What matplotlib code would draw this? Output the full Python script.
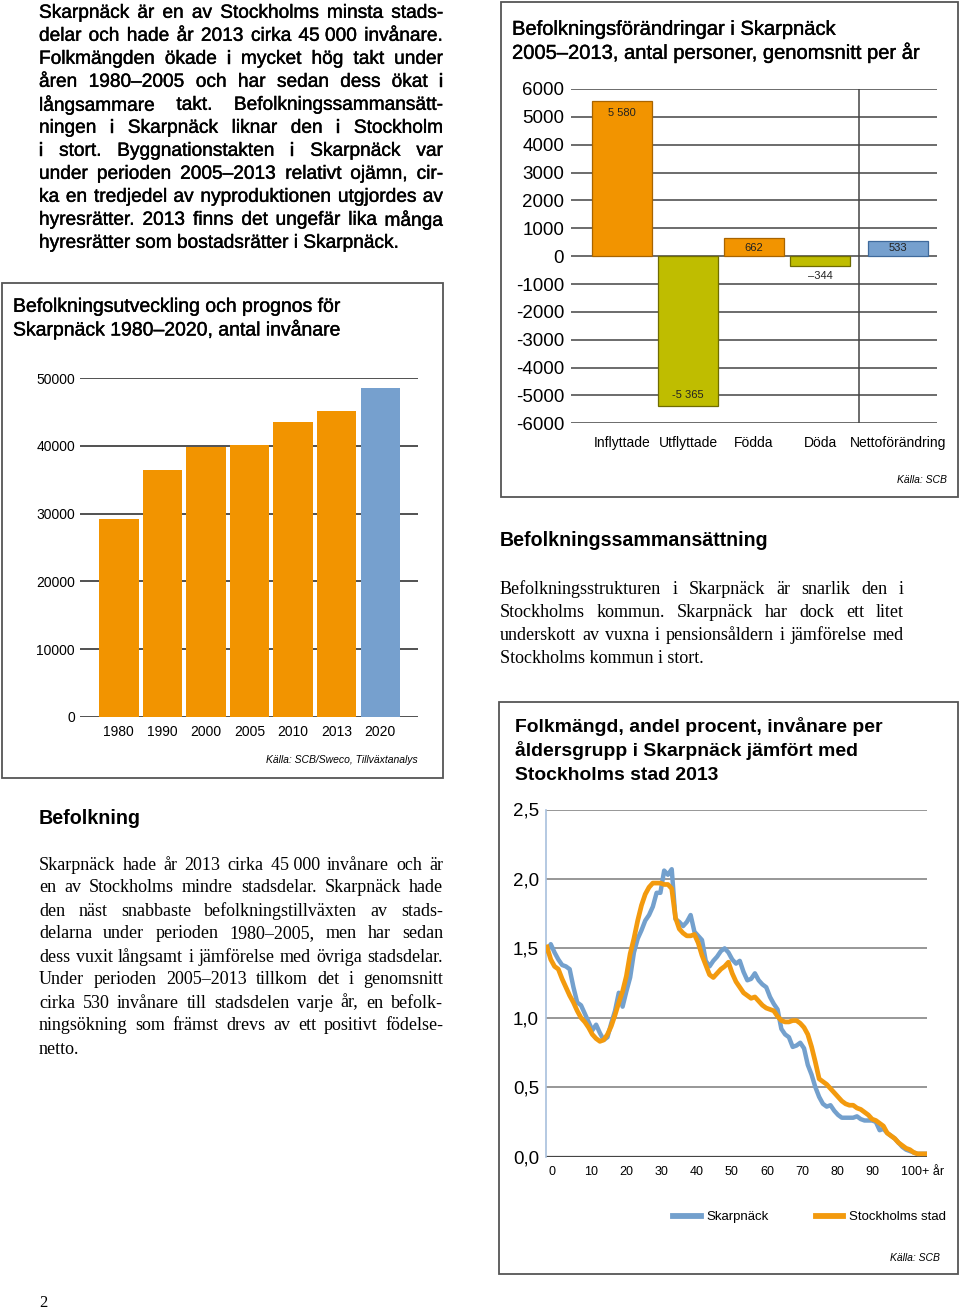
import matplotlib
matplotlib.use('Agg')
import matplotlib.pyplot as plt
import matplotlib.patheffects as pe
from matplotlib.patches import Rectangle
from matplotlib.lines import Line2D
import numpy as np

# --- data -------------------------------------------------------------
pop_years = ['1980', '1990', '2000', '2005', '2010', '2013', '2020']
pop_values = [29200, 36400, 39900, 40200, 43600, 45100, 48600]
pop_prognos = [False, False, False, False, False, False, True]

change_labels = ['Inflyttade', 'Utflyttade', 'Födda', 'Döda', 'Nettoförändring']
change_values = [5580, -5365, 662, -344, 533]
change_texts = ['5 580', '-5 365', '662', '–344', '533']

ages = list(range(101))
skarpnack = [1.48, 1.53, 1.47, 1.42, 1.38, 1.37, 1.35, 1.22, 1.11, 1.09,
             1.03, 0.97, 0.91, 0.95, 0.89, 0.84, 0.86, 0.96, 1.05, 1.18,
             1.08, 1.19, 1.29, 1.47, 1.57, 1.63, 1.70, 1.74, 1.80, 1.90,
             1.90, 2.06, 2.03, 2.07, 1.71, 1.69, 1.66, 1.69, 1.74, 1.62,
             1.59, 1.56, 1.41, 1.37, 1.41, 1.44, 1.48, 1.50, 1.47, 1.42,
             1.39, 1.41, 1.33, 1.27, 1.28, 1.32, 1.27, 1.24, 1.22, 1.15,
             1.10, 1.06, 0.92, 0.88, 0.86, 0.79, 0.80, 0.82, 0.78, 0.66,
             0.59, 0.50, 0.43, 0.38, 0.36, 0.37, 0.33, 0.30, 0.28, 0.28,
             0.28, 0.28, 0.29, 0.27, 0.26, 0.26, 0.26, 0.25, 0.19, 0.20,
             0.17, 0.15, 0.13, 0.10, 0.07, 0.05, 0.04, 0.03, 0.02, 0.02,
             0.02]
stockholm = [1.51, 1.42, 1.37, 1.35, 1.28, 1.22, 1.16, 1.11, 1.05, 1.00,
             0.97, 0.93, 0.88, 0.85, 0.83, 0.84, 0.88, 0.94, 1.02, 1.11,
             1.19, 1.30, 1.46, 1.57, 1.70, 1.81, 1.89, 1.94, 1.97, 1.97,
             1.97, 1.96, 1.96, 1.93, 1.72, 1.64, 1.61, 1.59, 1.59, 1.60,
             1.54, 1.45, 1.38, 1.31, 1.29, 1.32, 1.35, 1.37, 1.40, 1.32,
             1.26, 1.22, 1.18, 1.16, 1.14, 1.15, 1.12, 1.09, 1.07, 1.06,
             1.05, 1.01, 0.98, 0.97, 0.97, 0.98, 0.98, 0.96, 0.93, 0.88,
             0.79, 0.68, 0.56, 0.54, 0.52, 0.49, 0.46, 0.43, 0.40, 0.38,
             0.37, 0.37, 0.35, 0.34, 0.32, 0.30, 0.27, 0.26, 0.24, 0.22,
             0.17, 0.15, 0.13, 0.10, 0.08, 0.06, 0.05, 0.03, 0.02, 0.02,
             0.02]
age_labels = ['0', '10', '20', '30', '40', '50', '60', '70', '80', '90', '100+ år']

intro_lines = [
    'Skarpnäck är en av Stockholms minsta stads-',
    'delar och hade år 2013 cirka 45\u00a0000 invånare.',
    'Folkmängden ökade i mycket hög takt under',
    'åren 1980–2005 och har sedan dess ökat i',
    'långsammare takt. Befolkningssammansätt-',
    'ningen i Skarpnäck liknar den i Stockholm',
    'i stort. Byggnationstakten i Skarpnäck var',
    'under perioden 2005–2013 relativt ojämn, cir-',
    'ka en tredjedel av nyproduktionen utgjordes av',
    'hyresrätter. 2013 finns det ungefär lika många',
    'hyresrätter som bostadsrätter i Skarpnäck.',
]
befolkning_lines = [
    'Skarpnäck hade år 2013 cirka 45\u00a0000 invånare och är',
    'en av Stockholms mindre stadsdelar. Skarpnäck hade',
    'den näst snabbaste befolkningstillväxten av stads-',
    'delarna under perioden 1980–2005, men har sedan',
    'dess vuxit långsamt i jämförelse med övriga stadsdelar.',
    'Under perioden 2005–2013 tillkom det i genomsnitt',
    'cirka 530 invånare till stadsdelen varje år, en befolk-',
    'ningsökning som främst drevs av ett positivt födelse-',
    'netto.',
]
sammans_lines = [
    'Befolkningsstrukturen i Skarpnäck är snarlik den i',
    'Stockholms kommun. Skarpnäck har dock ett litet',
    'underskott av vuxna i pensionsåldern i jämförelse med',
    'Stockholms kommun i stort.',
]

# --- helpers ----------------------------------------------------------
W, H = 960, 1311
fig = plt.figure(figsize=(W / 100, H / 100), dpi=100)
plt.rcParams['font.family'] = ['Liberation Sans', 'DejaVu Sans']
R = fig.canvas.get_renderer()

SANS = 'Liberation Sans'
SERIF = 'Liberation Serif'
ORANGE = '#F29400'
BLUE = '#76A0CE'
OLIVE = '#BFBD00'
MEDIUM = [pe.withStroke(linewidth=0.3, foreground='black')]


def fx(x):
    return x / W


def fy(y):
    return 1 - y / H


def put(x, y, s, **kw):
    kw.setdefault('va', 'center')
    return fig.text(fx(x), fy(y), s, **kw)


def fit_size(s, width, **kw):
    t = put(0, 0, s, fontsize=10, **kw)
    w = t.get_window_extent(R).width
    t.remove()
    return 10 * width / w


def block_size(lines, width, **kw):
    # largest size at which every full line fits with normal word spacing
    return 0.985 * min(fit_size(l, width, **kw) for l in lines[:-1])


def box(x0, y0, x1, y1):
    fig.patches.append(Rectangle((fx(x0), fy(y1)), (x1 - x0) / W, (y1 - y0) / H,
                                 transform=fig.transFigure, fill=False,
                                 ec='#555555', lw=1.3))


def axes_px(x0, y0, x1, y1):
    return fig.add_axes([fx(x0), fy(y1), (x1 - x0) / W, (y1 - y0) / H])


def justify(lines, x0, x1, y0, dy, **kw):
    for i, line in enumerate(lines):
        y = y0 + i * dy
        words = line.split(' ')
        if i == len(lines) - 1 or len(words) == 1:
            put(x0, y, line, ha='left', **kw)
            continue
        objs = [put(0, y, w, ha='left', **kw) for w in words]
        widths = [o.get_window_extent(R).width for o in objs]
        gap = (x1 - x0 - sum(widths)) / (len(words) - 1)
        x = x0
        for o, w in zip(objs, widths):
            o.set_x(fx(x))
            x += w + gap


# --- text -------------------------------------------------------------
fs = block_size(intro_lines, 404, family=SANS)
justify(intro_lines, 39, 443, 13.3, 23, family=SANS, fontsize=fs, path_effects=MEDIUM)

fs = fit_size('Befolkning', 102, family=SANS, weight='bold')
put(39, 819, 'Befolkning', family=SANS, weight='bold', fontsize=fs)
fs = fit_size('Befolkningssammansättning', 269, family=SANS, weight='bold')
put(500, 541, 'Befolkningssammansättning', family=SANS, weight='bold', fontsize=fs)

fs = min(block_size(befolkning_lines, 404, family=SERIF),
         block_size(sammans_lines, 404, family=SERIF))
justify(befolkning_lines, 39, 443, 865, 23, family=SERIF, fontsize=fs)
justify(sammans_lines, 500, 904, 589, 23, family=SERIF, fontsize=fs)
put(43, 1303, '2', family=SERIF, fontsize=12, ha='center')

# --- chart 1: befolkningsutveckling -----------------------------------
box(2, 283, 443, 778)
fs = fit_size('Befolkningsutveckling och prognos för', 329, family=SANS)
put(13, 307.3, 'Befolkningsutveckling och prognos för', family=SANS, fontsize=fs, path_effects=MEDIUM)
put(13, 330, 'Skarpnäck 1980–2020, antal invånare', family=SANS, fontsize=fs, path_effects=MEDIUM)

ax1 = axes_px(80, 378.3, 418, 716.7)
x1 = np.arange(len(pop_years))
ax1.bar(x1, pop_values, width=0.905,
        color=[BLUE if p else ORANGE for p in pop_prognos], zorder=2)
for v in range(0, 50001, 10000):
    ax1.axhline(v, color='#333333', lw=1.2, zorder=1)
ax1.set_xlim(-0.892, 6.865)
ax1.set_ylim(0, 50000)
ax1.set_yticks(range(0, 50001, 10000))
ax1.set_yticklabels([str(v) for v in range(0, 50001, 10000)], fontsize=10)
ax1.set_xticks(x1)
ax1.set_xticklabels(pop_years, fontsize=10)
ax1.tick_params(axis='y', length=0, pad=3.6)
ax1.tick_params(axis='x', length=0, pad=6)
for s in ax1.spines.values():
    s.set_visible(False)
ax1.patch.set_alpha(0)
put(418, 760, 'Källa: SCB/Sweco, Tillväxtanalys', ha='right', fontsize=7.5, style='italic')

# --- chart 2: befolkningsförändringar ---------------------------------
box(501, 2, 958, 497)
fs = fit_size('2005–2013, antal personer, genomsnitt per år', 409, family=SANS)
put(512, 29.3, 'Befolkningsförändringar i Skarpnäck', family=SANS, fontsize=fs, path_effects=MEDIUM)
put(512, 52.3, '2005–2013, antal personer, genomsnitt per år', family=SANS, fontsize=fs, path_effects=MEDIUM)

ax2 = axes_px(570.7, 89, 936.7, 423.3)
pos2 = [0, 1, 2, 3, 4.18]
fill2 = [ORANGE, OLIVE, ORANGE, OLIVE, BLUE]
edge2 = ['#A86400', '#6F6C00', '#A86400', '#6F6C00', '#3F6A9C']
ax2.bar(pos2, change_values, width=0.9, color=fill2, edgecolor=edge2, lw=0.9, zorder=3)
for v in range(-6000, 6001, 1000):
    ax2.axhline(v, color='#444444', lw=1.1, zorder=1)
ax2.axvline(3.586, color='#444444', lw=1.1, zorder=1)
ax2.set_xlim(-0.777, 4.768)
ax2.set_ylim(-6000, 6000)
ax2.set_yticks(range(-6000, 6001, 1000))
ax2.set_yticklabels([str(v) for v in range(-6000, 6001, 1000)], fontsize=13.5)
ax2.set_xticks(pos2)
ax2.set_xticklabels(change_labels, fontsize=10)
ax2.tick_params(axis='y', length=0, pad=4.8)
ax2.tick_params(axis='x', length=0, pad=9)
for s in ax2.spines.values():
    s.set_visible(False)
ax2.patch.set_alpha(0)
label_offsets = [-12, 11, -10, -10, -7]
for p, v, t, off in zip(pos2, change_values, change_texts, label_offsets):
    ax2.annotate(t, (p, v), xytext=(0, off * 0.72), textcoords='offset points',
                 ha='center', va='center', fontsize=8, color='#222222', zorder=5)
put(947, 480, 'Källa: SCB', ha='right', fontsize=7.5, style='italic')

# --- chart 3: åldersfördelning ----------------------------------------
box(499, 702, 958, 1274)
fs = fit_size('Folkmängd, andel procent, invånare per', 367, family=SANS, weight='bold')
put(515, 726, 'Folkmängd, andel procent, invånare per', family=SANS, weight='bold', fontsize=fs)
put(515, 750.5, 'åldersgrupp i Skarpnäck jämfört med', family=SANS, weight='bold', fontsize=fs)
put(515, 775, 'Stockholms stad 2013', family=SANS, weight='bold', fontsize=fs)

ax3 = axes_px(546, 809.5, 927, 1156.6)
for v in [0.5, 1.0, 1.5, 2.0, 2.5]:
    ax3.axhline(v, color='#7A7A7A', lw=1.1, zorder=1)
ax3.axhline(0, color='#444444', lw=1.6, zorder=2)
ax3.plot(ages, skarpnack, color='#73A0CD', lw=3.2, zorder=3)
ax3.plot(ages, stockholm, color='#F39A0E', lw=3.4, zorder=4)
ax3.set_xlim(-0.26, 100.53)
ax3.set_ylim(0, 2.5)
ax3.set_yticks([0, 0.5, 1.0, 1.5, 2.0, 2.5])
ax3.set_yticklabels(['0,0', '0,5', '1,0', '1,5', '2,0', '2,5'], fontsize=13.5)
age_tick_pos = [1.2, 11.6, 20.9, 30.2, 39.6, 48.9, 58.2, 67.5, 76.8, 86.2, 99.3]
ax3.set_xticks(age_tick_pos)
ax3.set_xticklabels(age_labels, fontsize=9)
ax3.tick_params(axis='y', length=0, pad=5)
ax3.tick_params(axis='x', length=0, pad=7)
for k, s in ax3.spines.items():
    s.set_visible(k == 'left')
ax3.spines['left'].set_color('#A8C0DD')
ax3.spines['left'].set_linewidth(1.2)
ax3.patch.set_alpha(0)

handles = [Line2D([], [], color='#73A0CD', lw=4.2), Line2D([], [], color='#F39A0E', lw=4.2)]
fig.legend(handles, ['Skarpnäck', 'Stockholms stad'], loc='center left',
           bbox_to_anchor=(fx(673), fy(1217)), ncol=2, frameon=False, fontsize=9.5,
           handlelength=2.1, handletextpad=0.45, columnspacing=3.55,
           borderaxespad=0, borderpad=0)
put(940, 1258, 'Källa: SCB', ha='right', fontsize=7.5, style='italic')

fig.savefig('out.png', dpi=100)
